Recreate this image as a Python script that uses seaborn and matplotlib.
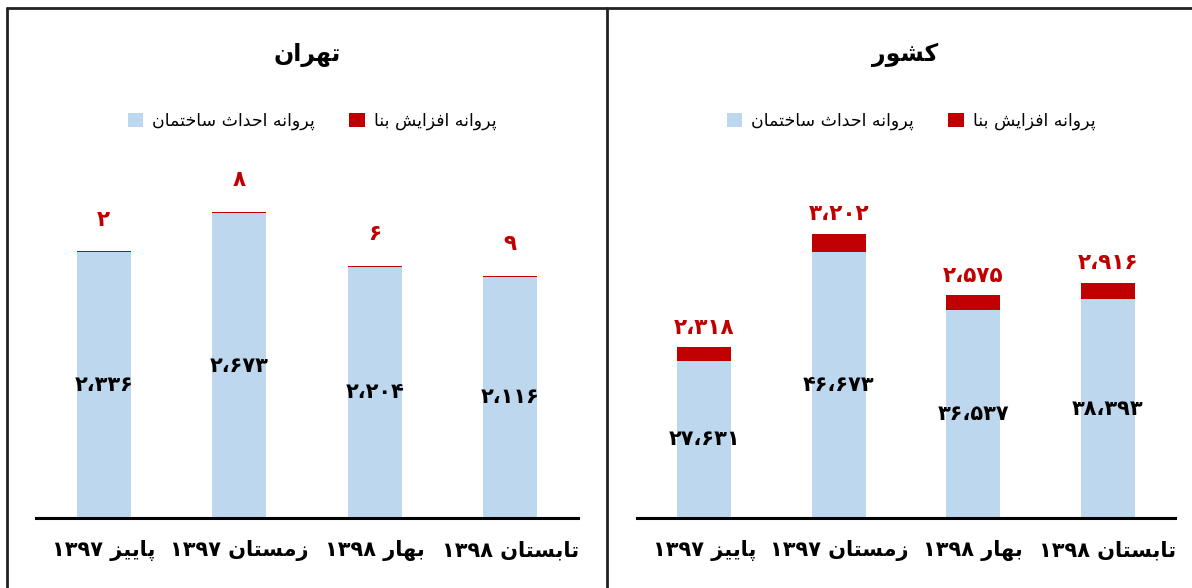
import re
import matplotlib
matplotlib.use("Agg")
import matplotlib.pyplot as plt
from matplotlib.patches import Patch
from matplotlib.lines import Line2D
import seaborn as sns

# ---------------- data ----------------
categories = ["پاییز ۱۳۹۷", "زمستان ۱۳۹۷", "بهار ۱۳۹۸", "تابستان ۱۳۹۸"]
tehran_build = [2336, 2673, 2204, 2116]      # پروانه احداث ساختمان
tehran_extend = [2, 8, 6, 9]                 # پروانه افزایش بنا
country_build = [27631, 46673, 36537, 38393]
country_extend = [2318, 3202, 2575, 2916]
title_tehran = "تهران"
title_country = "کشور"
label_build = "پروانه احداث ساختمان"
label_extend = "پروانه افزایش بنا"

BLUE = "#BDD7EE"
RED = "#C00000"

# ---------------- minimal Persian shaping (presentation forms + visual order) ----------------
FORMS = {
    'ا': ('\uFE8D', '\uFE8E', None, None),
    'ب': ('\uFE8F', '\uFE90', '\uFE91', '\uFE92'),
    'پ': ('\uFB56', '\uFB57', '\uFB58', '\uFB59'),
    'ت': ('\uFE95', '\uFE96', '\uFE97', '\uFE98'),
    'ث': ('\uFE99', '\uFE9A', '\uFE9B', '\uFE9C'),
    'ح': ('\uFEA1', '\uFEA2', '\uFEA3', '\uFEA4'),
    'خ': ('\uFEA5', '\uFEA6', '\uFEA7', '\uFEA8'),
    'د': ('\uFEA9', '\uFEAA', None, None),
    'ر': ('\uFEAD', '\uFEAE', None, None),
    'ز': ('\uFEAF', '\uFEB0', None, None),
    'س': ('\uFEB1', '\uFEB2', '\uFEB3', '\uFEB4'),
    'ش': ('\uFEB5', '\uFEB6', '\uFEB7', '\uFEB8'),
    'ف': ('\uFED1', '\uFED2', '\uFED3', '\uFED4'),
    '\u06A9': ('\uFB8E', '\uFB8F', '\uFB90', '\uFB91'),
    'م': ('\uFEE1', '\uFEE2', '\uFEE3', '\uFEE4'),
    'ن': ('\uFEE5', '\uFEE6', '\uFEE7', '\uFEE8'),
    'ه': ('\uFEE9', '\uFEEA', '\uFEEB', '\uFEEC'),
    'و': ('\uFEED', '\uFEEE', None, None),
    '\u06CC': ('\uFBFC', '\uFBFD', '\uFBFE', '\uFBFF'),
}


def shape(s):
    s = s.replace('\u064A', '\u06CC').replace('\u0643', '\u06A9')
    out = []
    for i, ch in enumerate(s):
        if ch not in FORMS:
            out.append(ch)
            continue
        prev = s[i - 1] if i > 0 else ''
        nxt = s[i + 1] if i + 1 < len(s) else ''
        jp = prev in FORMS and FORMS[prev][2] is not None
        jn = FORMS[ch][2] is not None and nxt in FORMS
        f = FORMS[ch]
        out.append(f[3] if (jp and jn) else f[1] if jp else f[2] if jn else f[0])
    return ''.join(out)


DIGRUN = re.compile(r'[۰-۹0-9]+(?:[،,][۰-۹0-9]+)*')


def rtl(s):
    t = shape(s)
    runs, pos = [], 0
    for m in DIGRUN.finditer(t):
        if m.start() > pos:
            runs.append((t[pos:m.start()], False))
        runs.append((m.group(), True))
        pos = m.end()
    if pos < len(t):
        runs.append((t[pos:], False))
    return ''.join(r if d else r[::-1] for r, d in reversed(runs))


def fa_num(v):
    s = f"{v:,}"
    return s.translate(str.maketrans("0123456789,", "۰۱۲۳۴۵۶۷۸۹،"))


# ---------------- figure ----------------
sns.set_theme(style="white")
plt.rcParams['font.family'] = ['DejaVu Sans']
plt.rcParams['text.color'] = 'black'
plt.rcParams['xtick.color'] = 'black'
plt.rcParams['xtick.labelcolor'] = 'black'

W, H = 1192, 588
fig = plt.figure(figsize=(W / 100, H / 100), dpi=100)


def fx(px):
    return px / W


def fy(py):
    return 1 - py / H


vis_cats = [rtl(c) for c in categories]

panels = [
    dict(left=36, right=578, build=tehran_build, extend=tehran_extend, ymax=3000,
         title=title_tehran, title_x=307, leg_x=312, red_off=23),
    dict(left=637, right=1175, build=country_build, extend=country_extend, ymax=60000,
         title=title_country, title_x=905, leg_x=911, red_off=14),
]

top_px, base_px = 176, 518
for p in panels:
    ax = fig.add_axes([fx(p['left']), fy(base_px), fx(p['right'] - p['left']),
                       (base_px - top_px) / H])
    totals = [b + e for b, e in zip(p['build'], p['extend'])]
    sns.barplot(x=vis_cats, y=totals, order=vis_cats, color=RED, saturation=1,
                width=0.4, ax=ax, linewidth=0)
    sns.barplot(x=vis_cats, y=p['build'], order=vis_cats, color=BLUE, saturation=1,
                width=0.4, ax=ax, linewidth=0)
    ax.set_xlim(-0.5, 3.5)
    ax.set_ylim(0, p['ymax'])
    ax.set_yticks([])
    ax.set_ylabel("")
    ax.set_xlabel("")
    for side in ['left', 'right', 'top']:
        ax.spines[side].set_visible(False)
    ax.spines['bottom'].set_linewidth(2.2)
    ax.spines['bottom'].set_color('black')
    ax.tick_params(axis='x', length=0, pad=16, labelsize=15, labelcolor='black')
    for lab in ax.get_xticklabels():
        lab.set_fontweight('bold')
    ax.patch.set_alpha(0)

    for i, (b, e) in enumerate(zip(p['build'], p['extend'])):
        ax.text(i, b / 2, fa_num(b), ha='center', va='center', fontsize=15,
                fontweight='bold', color='black')
        ax.annotate(fa_num(e), xy=(i, b + e), xytext=(0, p['red_off']),
                    textcoords='offset points', ha='center', va='center',
                    fontsize=15.5, fontweight='bold', color=RED)

    fig.text(fx(p['title_x']), fy(55), rtl(p['title']), ha='center', va='center',
             fontsize=17, fontweight='bold', color='black')

    handles = [Patch(facecolor=BLUE, edgecolor='none'), Patch(facecolor=RED, edgecolor='none')]
    leg = fig.legend(handles, [rtl(label_build), rtl(label_extend)], ncol=2,
                     loc='center', bbox_to_anchor=(fx(p['leg_x']), fy(121)), frameon=False,
                     fontsize=12.5, handlelength=0.9, handleheight=0.9, handletextpad=0.5,
                     columnspacing=2.0)
    for t in leg.get_texts():
        t.set_color('black')

# panel borders
lw = 2
fig.add_artist(Line2D([fx(7), fx(7)], [fy(8), 0], transform=fig.transFigure, color='#222222', lw=lw))
fig.add_artist(Line2D([fx(7), 1], [fy(8), fy(8)], transform=fig.transFigure, color='#222222', lw=lw))
fig.add_artist(Line2D([fx(607), fx(607)], [fy(8), 0], transform=fig.transFigure, color='#222222', lw=lw))

fig.savefig("out.png", dpi=100)
